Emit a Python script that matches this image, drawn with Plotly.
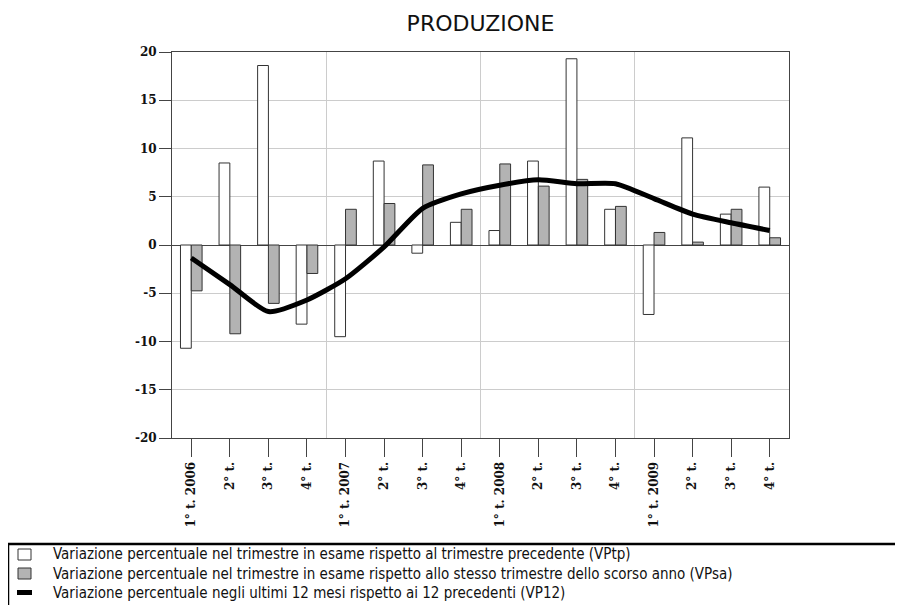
import plotly.graph_objects as go

# ---- data ----
tick_labels = ["1° t. 2006", "2° t.", "3° t.", "4° t.",
               "1° t. 2007", "2° t.", "3° t.", "4° t.",
               "1° t. 2008", "2° t.", "3° t.", "4° t.",
               "1° t. 2009", "2° t.", "3° t.", "4° t."]
quarters = list(range(len(tick_labels)))
vptp = [-10.7, 8.5, 18.6, -8.2, -9.5, 8.7, -0.85, 2.35,
        1.5, 8.7, 19.3, 3.7, -7.2, 11.1, 3.2, 6.0]
vpsa = [-4.75, -9.2, -6.05, -2.95, 3.7, 4.3, 8.3, 3.7,
        8.4, 6.1, 6.8, 4.0, 1.3, 0.3, 3.7, 0.75]
vp12 = [-1.35, -4.1, -6.9, -5.7, -3.5, -0.2, 3.8, 5.3,
        6.2, 6.75, 6.35, 6.35, 4.8, 3.2, 2.3, 1.5]
y_ticks = [-20, -15, -10, -5, 0, 5, 10, 15, 20]
legend_labels = [
    "Variazione percentuale nel trimestre in esame rispetto al trimestre precedente (VPtp)",
    "Variazione percentuale nel trimestre in esame rispetto allo stesso trimestre dello scorso anno (VPsa)",
    "Variazione percentuale negli ultimi 12 mesi rispetto ai 12 precedenti (VP12)",
]
title_text = "PRODUZIONE"

# ---- layout geometry (pixels, page offset of 8px compensated) ----
OFF = 8
W, H = 903 - OFF, 605 - OFF
L, R, T, B = 172 - OFF, 789 - OFF, 52 - OFF, 438 - OFF
PW, PH = R - L, B - T

def px(x):
    return (x - OFF - L) / PW

def py(y):
    return (B - (y - OFF)) / PH

WHITE = "#ffffff"
GRAY = "#b3b3b3"
EDGE = "#333333"
GRID = "#cccccc"
AXIS = "#444444"

fig = go.Figure()
fig.add_trace(go.Bar(x=quarters, y=vptp, name="VPtp",
                     marker=dict(color=WHITE, line=dict(color=EDGE, width=1))))
fig.add_trace(go.Bar(x=quarters, y=vpsa, name="VPsa",
                     marker=dict(color=GRAY, line=dict(color=EDGE, width=1))))
fig.add_trace(go.Scatter(x=quarters, y=vp12, name="VP12", mode="lines",
                         line=dict(color="#000000", width=5, shape="spline", smoothing=0.6)))

tick_font = dict(family="DejaVu Serif", size=12, color="#111111", weight="bold")

fig.update_layout(
    width=W, height=H,
    margin=dict(l=L, r=W - R, t=T, b=H - B, pad=0),
    paper_bgcolor="white", plot_bgcolor="white",
    barmode="group", bargap=0.44, bargroupgap=0,
    showlegend=False,
    title=dict(text=title_text, x=(L + R) / 2 / W, xanchor="center",
               y=1 - (23 - OFF) / H, yanchor="middle", yref="container",
               font=dict(family="DejaVu Sans", size=22, color="#111111")),
    xaxis=dict(range=[-0.5, 15.5], tickmode="array", tickvals=quarters,
               ticktext=tick_labels, tickangle=-90, tickfont=tick_font,
               ticks="outside", ticklen=18, tickcolor=AXIS, tickwidth=1,
               showgrid=False, showline=True, linecolor=AXIS, linewidth=1,
               mirror=True, zeroline=False,
               minor=dict(tickmode="array", tickvals=[3.5, 7.5, 11.5],
                          showgrid=True, gridcolor=GRID, gridwidth=1, ticks="")),
    yaxis=dict(range=[-20, 20], tickmode="array", tickvals=y_ticks,
               ticktext=[str(v) for v in y_ticks], tickfont=tick_font,
               ticks="outside", ticklen=12, tickcolor=AXIS, tickwidth=1,
               showgrid=True, gridcolor=GRID, gridwidth=1,
               showline=True, linecolor=AXIS, linewidth=1, mirror=True,
               zeroline=True, zerolinecolor=AXIS, zerolinewidth=1),
)

# ---- custom legend box below the chart ----
shapes = [dict(type="rect", xref="paper", yref="paper",
               x0=px(8), x1=px(930), y0=py(544), y1=py(640),
               line=dict(color="#000000", width=2.5), fillcolor="rgba(0,0,0,0)")]
shapes.append(dict(type="rect", xref="paper", yref="paper",
                   x0=px(18), x1=px(31), y0=py(549), y1=py(560),
                   line=dict(color=EDGE, width=1), fillcolor=WHITE))
shapes.append(dict(type="rect", xref="paper", yref="paper",
                   x0=px(18), x1=px(31), y0=py(568), y1=py(579),
                   line=dict(color=EDGE, width=1), fillcolor=GRAY))
shapes.append(dict(type="rect", xref="paper", yref="paper",
                   x0=px(17), x1=px(32), y0=py(590), y1=py(595),
                   line=dict(color="#000000", width=0), fillcolor="#000000"))
fig.update_layout(shapes=shapes)

fig.add_annotation(text="<br>".join(legend_labels), xref="paper", yref="paper",
                   x=px(51), y=py(604), xanchor="left", yanchor="bottom",
                   align="left", showarrow=False,
                   font=dict(family="DejaVu Sans Condensed, Liberation Sans Narrow, DejaVu Sans",
                             size=15, color="#111111"))

fig.write_html("out.html")
